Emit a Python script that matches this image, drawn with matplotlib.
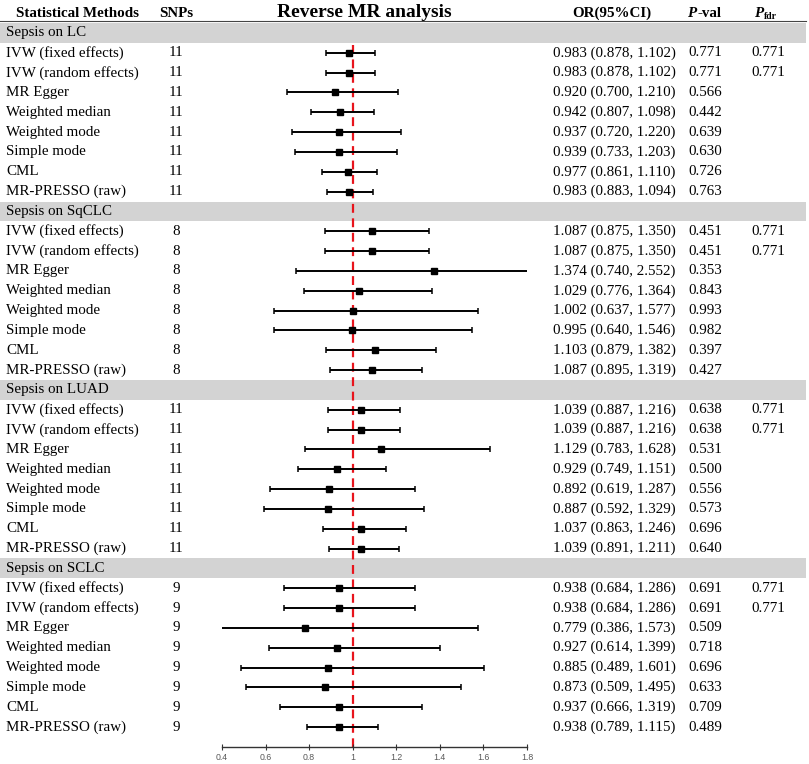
import matplotlib.pyplot as plt
import matplotlib.transforms as mtransforms
from matplotlib.patches import Rectangle
import numpy as np

# data
groups = ["Sepsis on LC", "Sepsis on SqCLC", "Sepsis on LUAD", "Sepsis on SCLC"]
methods = ["IVW (fixed effects)", "IVW (random effects)", "MR Egger", "Weighted median",
           "Weighted mode", "Simple mode", "CML", "MR-PRESSO (raw)"]
snps = [11, 8, 11, 9]

or_lc = [0.983, 0.983, 0.920, 0.942, 0.937, 0.939, 0.977, 0.983]
lo_lc = [0.878, 0.878, 0.700, 0.807, 0.720, 0.733, 0.861, 0.883]
hi_lc = [1.102, 1.102, 1.210, 1.098, 1.220, 1.203, 1.110, 1.094]
p_lc = [0.771, 0.771, 0.566, 0.442, 0.639, 0.630, 0.726, 0.763]

or_sq = [1.087, 1.087, 1.374, 1.029, 1.002, 0.995, 1.103, 1.087]
lo_sq = [0.875, 0.875, 0.740, 0.776, 0.637, 0.640, 0.879, 0.895]
hi_sq = [1.350, 1.350, 2.552, 1.364, 1.577, 1.546, 1.382, 1.319]
p_sq = [0.451, 0.451, 0.353, 0.843, 0.993, 0.982, 0.397, 0.427]

or_luad = [1.039, 1.039, 1.129, 0.929, 0.892, 0.887, 1.037, 1.039]
lo_luad = [0.887, 0.887, 0.783, 0.749, 0.619, 0.592, 0.863, 0.891]
hi_luad = [1.216, 1.216, 1.628, 1.151, 1.287, 1.329, 1.246, 1.211]
p_luad = [0.638, 0.638, 0.531, 0.500, 0.556, 0.573, 0.696, 0.640]

or_sclc = [0.938, 0.938, 0.779, 0.927, 0.885, 0.873, 0.937, 0.938]
lo_sclc = [0.684, 0.684, 0.386, 0.614, 0.489, 0.509, 0.666, 0.789]
hi_sclc = [1.286, 1.286, 1.573, 1.399, 1.601, 1.495, 1.319, 1.115]
p_sclc = [0.691, 0.691, 0.509, 0.718, 0.696, 0.633, 0.709, 0.489]

pfdr = [0.771, 0.771, 0.771, 0.771]  # only for the two IVW rows

all_or = [or_lc, or_sq, or_luad, or_sclc]
all_lo = [lo_lc, lo_sq, lo_luad, lo_sclc]
all_hi = [hi_lc, hi_sq, hi_luad, hi_sclc]
all_p = [p_lc, p_sq, p_luad, p_sclc]

xticks = [0.4, 0.6, 0.8, 1.0, 1.2, 1.4, 1.6, 1.8]
xtick_labels = ["0.4", "0.6", "0.8", "1", "1.2", "1.4", "1.6", "1.8"]

plt.rcParams['font.family'] = ['Liberation Serif', 'DejaVu Serif']

W, H = 809, 764
fig = plt.figure(figsize=(W / 100, H / 100), dpi=100)

# axes for the forest part; y in row units (header = -1, axis at 36)
row_px = 19.83
top_idx, bot_idx = -1.5, 36
y_top_px = 33 + top_idx * row_px
y_bot_px = 33 + bot_idx * row_px
ax = fig.add_axes([222 / W, 1 - y_bot_px / H, (527 - 222) / W, (y_bot_px - y_top_px) / H])
ax.set_xlim(0.4, 1.8)
ax.set_ylim(bot_idx, top_idx)
ax.set_facecolor('none')

trans = mtransforms.blended_transform_factory(fig.transFigure, ax.transData)

def px(x):
    return x / W

fs = 10.8
# header
ax.text(px(16), -1, "Statistical Methods", transform=trans, fontsize=10.8, fontweight='bold', va='center')
ax.text(px(176), -1, "SNPs", transform=trans, fontsize=10.8, fontweight='bold', va='center', ha='center')
ax.text(px(364), -1.05, "Reverse MR analysis", transform=trans, fontsize=14, fontweight='bold', va='center', ha='center')
ax.text(px(612), -1, "OR(95%CI)", transform=trans, fontsize=10.8, fontweight='bold', va='center', ha='center')
ax.text(px(687), -1, "P", transform=trans, fontsize=10.8, fontweight='bold', style='italic', va='center')
ax.text(px(697), -1, "-val", transform=trans, fontsize=10.8, fontweight='bold', va='center')
ax.text(px(754), -1, "P", transform=trans, fontsize=10.8, fontweight='bold', style='italic', va='center')
ax.text(px(764), -0.85, "fdr", transform=trans, fontsize=7, fontweight='bold', va='center')

ax.plot([px(0), px(806)], [-0.6, -0.6], transform=trans, color='#444444', lw=0.8, clip_on=False)

# red reference line
ax.plot([1, 1], [0.6, 36], color='#e8141c', lw=1.6, ls=(0, (4, 2.5)), zorder=1)

for g, name in enumerate(groups):
    band = g * 9
    ax.add_patch(Rectangle((px(0), band - 0.5), px(806), 1.0, transform=trans,
                           facecolor='#d3d3d3', edgecolor='none', clip_on=False, zorder=0))
    ax.text(px(6), band, name, transform=trans, fontsize=fs, va='center')
    rows = np.arange(band + 1, band + 9)
    orv = np.array(all_or[g])
    lov = np.array(all_lo[g])
    hiv = np.array(all_hi[g])
    ax.errorbar(orv, rows, xerr=[orv - lov, hiv - orv], fmt='s', color='black',
                ecolor='black', elinewidth=1.4, capsize=2.4, capthick=1.1,
                markersize=4.5, zorder=3)
    for k, r in enumerate(rows):
        ax.text(px(6), r, methods[k], transform=trans, fontsize=fs, va='center')
        ax.text(px(176), r, str(snps[g]), transform=trans, fontsize=fs, va='center', ha='center')
        ax.text(px(553), r, f"{orv[k]:.3f} ({lov[k]:.3f}, {hiv[k]:.3f})", transform=trans,
                fontsize=fs, va='center')
        ax.text(px(688), r, f"{all_p[g][k]:.3f}", transform=trans, fontsize=fs, va='center')
        if k < 2:
            ax.text(px(751), r, f"{pfdr[g]:.3f}", transform=trans, fontsize=fs, va='center')

for s in ['top', 'left', 'right']:
    ax.spines[s].set_visible(False)
ax.spines['bottom'].set_color('#333333')
ax.spines['bottom'].set_linewidth(1.0)
ax.set_yticks([])
ax.set_xticks(xticks)
ax.set_xticklabels(xtick_labels, fontsize=6.3, color='#595959', family='Liberation Sans')
ax.tick_params(axis='x', direction='inout', length=4, width=0.8, color='#333333', pad=2.5)

fig.savefig('out.png', dpi=100)
